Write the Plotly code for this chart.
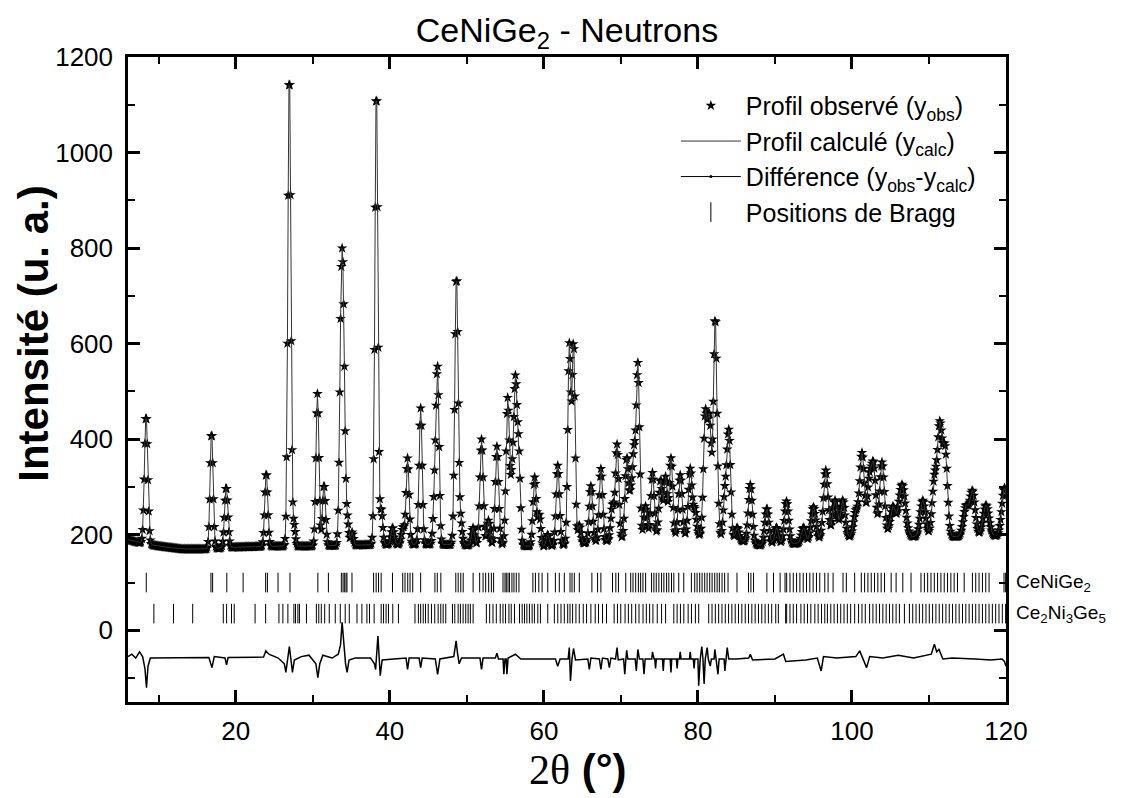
import numpy as np
import plotly.graph_objects as go

# ---------------- data ----------------
# background level (2theta, counts)
bg_x = [6, 7, 10, 13, 16, 20, 25, 30, 35, 40, 45, 50, 55, 60, 65, 70, 75, 80, 85, 88, 92, 96, 100, 105, 110, 115, 120]
bg_y = [190, 185, 176, 170, 170, 174, 176, 176, 178, 180, 180, 178, 178, 175, 182, 190, 195, 198, 190, 178, 180, 190, 195, 196, 196, 196, 198]

# diffraction peaks: position (deg), top intensity (counts), FWHM (deg)
peak_pos = [8.35, 16.85, 18.75, 23.95, 26.95, 27.55, 30.6, 31.45, 33.65, 33.95, 34.5, 35.1,
            38.25, 38.9, 40.35, 41.7, 42.3, 44.0, 45.85, 46.2, 48.65, 49.2, 50.8, 51.9, 52.8,
            53.9, 55.3, 55.85, 56.3, 56.75, 58.8, 59.4, 60.5, 61.8, 63.3, 63.85, 64.6, 66.1,
            67.4, 68.9, 69.5, 70.75, 71.3, 71.7, 72.2, 73.2, 74.1, 75.15, 75.8, 76.5, 77.7,
            79.0, 79.6, 80.95, 81.5, 82.25, 83.5, 84.0, 85.1, 86.8, 88.95, 90.2, 91.5, 93.7,
            95.0, 96.6, 97.8, 98.8, 100.5, 101.3, 102.3, 102.85, 103.9, 105.3, 106.5, 109.2,
            110.7, 111.4, 112.1, 114.8, 115.65, 117.4, 119.8]
peak_top = [450, 415, 300, 330, 1175, 220, 495, 305, 550, 625, 225, 205,
            1140, 250, 215, 215, 360, 465, 300, 530, 745, 225, 215, 400, 230,
            385, 485, 300, 515, 360, 320, 240, 200, 345, 595, 600, 220, 302,
            338, 260, 388, 360, 280, 350, 555, 260, 330, 315, 320, 360, 325,
            338, 250, 445, 435, 655, 280, 415, 215, 305, 255, 215, 270, 215,
            258, 335, 272, 272, 247, 370, 318, 325, 352, 257, 305, 272,
            312, 420, 372, 257, 290, 262, 298]
peak_fwhm = [0.5, 0.45, 0.5, 0.45, 0.45, 0.4, 0.45, 0.45, 0.45, 0.5, 0.4, 0.4,
             0.45, 0.4, 0.45, 0.45, 0.45, 0.45, 0.45, 0.45, 0.5, 0.45, 0.45, 0.5, 0.45,
             0.5, 0.5, 0.45, 0.5, 0.45, 0.5, 0.45, 0.45, 0.5, 0.45, 0.45, 0.45, 0.5,
             0.5, 0.5, 0.5, 0.5, 0.5, 0.45, 0.5, 0.5, 0.5, 0.5, 0.5, 0.5, 0.55,
             0.55, 0.5, 0.55, 0.55, 0.55, 0.5, 0.55, 0.5, 0.6, 0.6, 0.6, 0.65, 0.6,
             0.7, 0.7, 0.7, 0.7, 0.7, 0.7, 0.7, 0.6, 0.7, 0.8, 1.0, 0.8,
             0.7, 0.7, 0.7, 0.8, 0.8, 0.9, 0.8]

# difference curve (2theta, yobs - ycalc shifted)
diff_x = [6.0, 6.5, 7.0, 7.5, 7.9, 8.2, 8.4, 8.6, 8.9, 12, 16.5, 16.9, 17.2, 18.6, 18.8, 19.0,
          23.6, 23.9, 24.3, 25.5, 26.3, 26.5, 26.75, 26.95, 27.15, 27.35, 27.6, 28.5, 29.5,
          30.4, 30.65, 30.9, 31.3, 32.5, 33.3, 33.6, 33.8, 34.0, 34.25, 34.45, 34.7, 35.5,
          37.5, 38.0, 38.15, 38.45, 38.6, 38.75, 39.0, 42.1, 42.3, 42.5, 43.8, 44.0, 44.2,
          45.9, 46.2, 46.5, 48.3, 48.6, 48.8, 49.0, 49.3, 51.7, 51.9, 52.1, 53.7, 53.9, 54.1,
          54.7, 54.8, 54.95, 55.1, 55.2, 55.35, 56.3, 57, 59, 61.5, 61.8, 62.1, 63.15, 63.3,
          63.45, 63.65, 63.85, 64.1, 65.7, 65.9, 66.1, 67.2, 67.4, 67.6, 68.3, 68.5, 68.7,
          69.3, 69.5, 69.65, 70.35, 70.5, 70.65, 70.75, 70.9, 71.85, 72.0, 72.2, 72.4, 72.85,
          73.0, 73.15, 74.0, 74.1, 74.3, 74.4, 74.5, 74.6, 75.4, 75.5, 75.6, 76.4, 76.5, 76.6,
          77.2, 77.3, 77.4, 77.6, 77.7, 77.8, 78.9, 79.0, 79.1, 79.4, 79.5, 79.6, 80.0, 80.1,
          80.3, 80.5, 80.65, 80.8, 80.95, 81.2, 81.35, 81.6, 81.75, 82.1, 82.2, 82.35, 82.6,
          82.75, 83.4, 83.5, 83.65, 83.8, 84.0, 85, 86.6, 86.8, 87.1, 90, 91.1, 91.4, 94, 95.5,
          96.0, 96.3, 98, 100.5, 101.0, 101.4, 101.9, 102.3, 104, 106, 108, 110.3, 110.7,
          111.0, 111.3, 111.8, 113, 116, 118, 119.5, 119.8, 120]
diff_y = [-55, -50, -58, -45, -55, -80, -120, -75, -58, -58, -57, -78, -55, -58, -72, -57,
          -56, -43, -50, -58, -70, -88, -60, -34, -60, -88, -62, -55, -52,
          -70, -99, -70, -52, -58, -50, -30, 17, -20, -70, -88, -62, -58,
          -58, -70, -82, -12, -60, -95, -62, -58, -82, -58, -58, -78, -58,
          -60, -92, -60, -55, -22, -50, -70, -58, -58, -82, -58, -58, -48, -60,
          -60, -92, -60, -60, -92, -58, -50, -60, -60, -60, -75, -60, -60, -36,
          -106, -60, -38, -62, -60, -82, -58, -60, -82, -58, -60, -78, -58,
          -60, -36, -62, -60, -92, -60, -42, -60, -60, -85, -40, -60, -60,
          -92, -60, -60, -45, -60, -60, -80, -60, -60, -85, -60, -60, -88, -60,
          -60, -80, -60, -60, -45, -60, -60, -45, -60, -60, -80, -60, -60, -116,
          -60, -34, -60, -112, -60, -36, -60, -75, -60, -60, -40, -60, -92,
          -60, -60, -85, -60, -36, -60, -60, -58, -50, -62, -60, -50, -65, -62, -58,
          -85, -55, -58, -55, -43, -60, -78, -55, -58, -52, -58, -50, -29,
          -45, -40, -60, -58, -60, -62, -60, -65, -75]

# Bragg reflection positions (deg)
bragg_cenige2 = [8.37, 16.77, 16.99, 18.83, 20.95, 23.87, 24.10, 25.48, 27.03, 30.65, 32.02, 33.70,
                 33.92, 34.09, 34.30, 34.43, 35.08, 37.89, 38.22, 38.53, 38.87, 40.34, 41.67, 41.97,
                 42.32, 42.62, 42.97, 44.00, 45.85, 46.16, 46.62, 48.56, 48.87, 49.21, 49.52, 50.81,
                 51.66, 52.10, 52.44, 52.83, 53.18, 53.47, 54.69, 54.95, 55.12, 55.34, 55.54, 55.85,
                 56.11, 56.41, 56.76, 58.57, 58.90, 59.34, 59.77, 60.50, 61.49, 62.00, 62.65, 63.39,
                 63.65, 63.95, 64.60, 66.23, 66.97, 67.40, 68.91, 69.34, 69.68, 70.63, 71.27, 71.57,
                 71.92, 72.27, 72.56, 72.86, 73.21, 73.98, 74.28, 74.59, 74.93, 75.28, 75.58, 75.93,
                 76.22, 76.57, 76.87, 77.51, 78.16, 79.15, 79.58, 79.89, 80.23, 80.54, 80.88, 81.19,
                 81.53, 81.84, 82.18, 82.49, 82.78, 83.13, 83.47, 83.91, 85.07, 86.57, 86.88, 87.22,
                 88.95, 89.81, 90.67, 91.31, 91.52, 91.95, 92.38, 92.81, 93.24, 93.67, 94.10, 94.53,
                 94.96, 95.39, 95.82, 96.47, 96.90, 97.55, 98.84, 99.27, 100.35, 101.21, 101.64,
                 102.07, 102.50, 102.93, 103.36, 103.79, 104.23, 105.09, 105.73, 106.60, 107.67,
                 108.96, 109.40, 109.83, 110.26, 110.69, 111.12, 111.55, 111.98, 112.41, 112.84,
                 113.27, 113.70, 114.57, 115.64, 116.07, 116.50, 116.94, 117.37, 117.80, 119.74, 119.95]
bragg_ce2ni3ge5 = [9.36, 11.91, 14.40, 18.37, 18.80, 19.44, 19.79, 22.50, 23.87, 25.60, 26.11, 26.76,
                   27.54, 27.75, 28.06, 28.26, 29.17, 30.46, 30.77, 31.10, 31.54, 32.13, 32.91, 33.56,
                   34.20, 34.73, 35.73, 36.37, 37.02, 37.36, 37.96, 38.87, 39.18, 39.51, 39.82, 40.38,
                   41.11, 43.26, 43.70, 44.00, 44.33, 44.63, 44.98, 45.40, 45.83, 46.27, 46.61, 46.92,
                   47.26, 48.13, 48.43, 48.87, 49.16, 49.51, 49.85, 50.16, 50.45, 50.81, 52.53, 52.96,
                   53.39, 53.82, 54.33, 54.69, 55.02, 55.46, 55.76, 56.18, 56.83, 57.18, 57.48, 57.79,
                   58.12, 58.47, 58.77, 59.21, 59.55, 60.50, 61.36, 61.80, 62.22, 62.65, 63.09, 63.39,
                   63.73, 64.16, 64.59, 65.11, 65.54, 66.10, 66.66, 67.09, 67.61, 68.13, 69.12, 69.55,
                   69.98, 70.54, 70.97, 71.40, 71.92, 72.35, 72.87, 73.30, 73.73, 74.16, 74.72, 75.28,
                   75.80, 76.87, 77.30, 77.73, 78.17, 78.73, 79.16, 79.67, 80.10, 81.40, 81.83, 82.26,
                   82.69, 83.12, 83.55, 83.98, 84.41, 84.84, 85.27, 85.70, 86.14, 86.57, 87.00, 87.43,
                   87.86, 88.29, 88.72, 89.15, 89.58, 90.10, 90.44, 91.39, 91.52, 91.95, 92.38, 92.81,
                   93.37, 93.80, 94.23, 94.66, 95.18, 95.61, 96.04, 96.47, 96.81, 97.25, 97.68, 98.11,
                   98.54, 98.97, 99.40, 99.83, 100.35, 100.86, 101.30, 101.73, 102.29, 102.72, 103.15,
                   103.58, 104.01, 104.44, 104.87, 105.30, 105.73, 106.16, 106.81, 107.46, 107.89,
                   108.32, 108.75, 109.18, 109.61, 110.04, 110.47, 110.90, 111.33, 111.77, 112.20,
                   112.63, 113.06, 113.49, 113.92, 114.35, 114.78, 115.21, 115.64, 116.07, 116.50,
                   116.94, 117.37, 117.80, 118.23, 118.66, 119.09, 119.52, 119.95]
bragg_level = [100, 35]
phase_names = ["CeNiGe<sub>2</sub>", "Ce<sub>2</sub>Ni<sub>3</sub>Ge<sub>5</sub>"]

# ---------------- calculated profile from the peak table ----------------
tth = np.round(np.arange(6.0, 120.0001, 0.1), 2)
bg = np.interp(tth, bg_x, bg_y)
ycalc = bg.copy()
for p, t, w in zip(peak_pos, peak_top, peak_fwhm):
    amp = t - np.interp(p, bg_x, bg_y)
    ycalc += amp * np.exp(-4 * np.log(2) * ((tth - p) / w) ** 2)
yobs = ycalc

FONT = "Liberation Sans, Arial, sans-serif"
fig = go.Figure()

fig.add_trace(go.Scatter(x=tth, y=yobs, mode="markers", name="Profil observé (y<sub>obs</sub>)",
                         marker=dict(symbol="star", size=8, color="black", line=dict(width=0))))
fig.add_trace(go.Scatter(x=tth, y=ycalc, mode="lines", name="Profil calculé (y<sub>calc</sub>)",
                         line=dict(color="#333333", width=1)))
fig.add_trace(go.Scatter(x=diff_x, y=diff_y, mode="lines", showlegend=False,
                         line=dict(color="black", width=1.5)))
fig.add_trace(go.Scatter(x=[None], y=[None], mode="lines+markers",
                         name="Différence (y<sub>obs</sub>-y<sub>calc</sub>)",
                         line=dict(color="black", width=1), marker=dict(size=3, color="black")))
for i, (pos, lvl) in enumerate(zip([bragg_cenige2, bragg_ce2ni3ge5], bragg_level)):
    fig.add_trace(go.Scatter(x=pos, y=[lvl] * len(pos), mode="markers",
                             name="Positions de Bragg", showlegend=(i == 0),
                             marker=dict(symbol="line-ns-open", size=14,
                                         line=dict(width=1, color="black"), color="black")))
    fig.add_annotation(x=1, xref="paper", y=lvl, yref="y", xanchor="left", yanchor="middle",
                       xshift=8, text=phase_names[i], showarrow=False,
                       font=dict(size=19, color="black", family=FONT))

# axis titles (placed as in the reference)
fig.add_annotation(x=0, xref="paper", y=0.571, yref="paper", xanchor="center", yanchor="middle",
                   xshift=-94, textangle=-90, showarrow=False,
                   text="<b>Intensité (u. a.)</b>", font=dict(size=42, color="black", family=FONT))
fig.add_annotation(x=0.5, xref="paper", y=0, yref="paper", xanchor="center", yanchor="middle",
                   xshift=11, yshift=-67, showarrow=False,
                   text="<span style='font-family:Liberation Serif'>2θ</span> <b>(°)</b>",
                   font=dict(size=42, color="black", family=FONT))

axis_common = dict(showline=True, linewidth=2.5, linecolor="black", mirror="ticks",
                   ticks="inside", ticklen=12, tickwidth=2.5, tickcolor="black",
                   showgrid=False, zeroline=False,
                   tickfont=dict(size=26, color="black", family=FONT))
fig.update_xaxes(range=[6, 120], tick0=0, dtick=20, ticklabelstandoff=4,
                 minor=dict(ticks="inside", ticklen=7, tickwidth=2, dtick=10, tick0=0, tickcolor="black"),
                 **axis_common)
fig.update_yaxes(range=[-150, 1200], tickvals=[0, 200, 400, 600, 800, 1000, 1200],
                 ticklabelstandoff=7,
                 minor=dict(ticks="inside", ticklen=7, tickwidth=2, dtick=100, tick0=0, tickcolor="black"),
                 **axis_common)

fig.update_layout(
    width=1130, height=798,
    margin=dict(l=120, r=132, t=49, b=104),
    paper_bgcolor="white", plot_bgcolor="white",
    title=dict(text="CeNiGe<sub>2</sub> - Neutrons", x=0.4947, xanchor="center", y=0.972, yanchor="middle",
               font=dict(size=34, color="black", family=FONT)),
    legend=dict(x=0.624, y=0.96, xanchor="left", yanchor="top", bgcolor="rgba(0,0,0,0)",
                font=dict(size=25, color="black", family=FONT), itemwidth=60, tracegroupgap=0),
    showlegend=True,
)

fig.write_html("out.html")
